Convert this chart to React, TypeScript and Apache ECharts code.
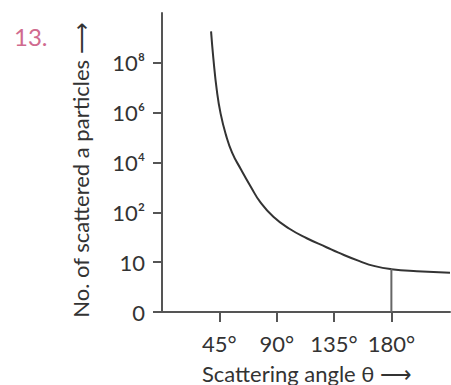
import React, { useEffect, useRef } from "react";
import * as echarts from "echarts";

const angles = [38.5, 40.3, 43, 46, 50, 55, 62, 70, 77, 87.4, 100, 113.6, 129, 138.5, 155, 167, 180, 200, 226];
const levels = [5.63, 5.09, 4.45, 3.98, 3.57, 3.2, 2.86, 2.5, 2.21, 1.91, 1.67, 1.48, 1.3, 1.19, 1.02, 0.92, 0.86, 0.82, 0.79];
const yTickLabels = ["0", "10", "10²", "10⁴", "10⁶", "10⁸"];
const xTicks = [45, 90, 135, 180];
const markerAngle = 180;
const markerLevel = 0.86;

export default function App() {
  const ref = useRef<HTMLDivElement>(null);
  useEffect(() => {
    if (!ref.current) return;
    const chart = echarts.init(ref.current, null, { renderer: "svg" });
    const font = "Lato, 'Open Sans', sans-serif";
    chart.setOption({
      animation: false,
      backgroundColor: "#fff",
      grid: { left: 162, right: 1, top: 13, bottom: 73 },
      xAxis: {
        type: "value",
        min: 0,
        max: 226,
        axisLine: { show: true, lineStyle: { color: "#555", width: 2 } },
        axisTick: { show: true, customValues: xTicks, length: 10, lineStyle: { color: "#555", width: 2 } },
        axisLabel: {
          customValues: xTicks,
          formatter: (v: number) => v + "°",
          fontSize: 22,
          color: "#333",
          fontFamily: font,
          margin: 20,
        },
        splitLine: { show: false },
      },
      yAxis: {
        type: "value",
        min: 0,
        max: 6,
        axisLine: { show: true, lineStyle: { color: "#555", width: 2 } },
        axisTick: { show: true, customValues: [0, 1, 2, 3, 4, 5], length: 9, lineStyle: { color: "#555", width: 2 } },
        axisLabel: {
          customValues: [0, 1, 2, 3, 4, 5],
          formatter: (v: number) => yTickLabels[Math.round(v)] ?? "",
          fontSize: 22,
          color: "#333",
          fontFamily: font,
          margin: 17,
        },
        splitLine: { show: false },
      },
      series: [
        {
          type: "line",
          data: angles.map((a, i) => [a, levels[i]]),
          smooth: 0.5,
          showSymbol: false,
          lineStyle: { color: "#333", width: 2 },
        },
        {
          type: "line",
          data: [
            [markerAngle, 0],
            [markerAngle, markerLevel],
          ],
          showSymbol: false,
          lineStyle: { color: "#666", width: 2 },
        },
      ],
      graphic: [
        {
          type: "text",
          left: 14,
          top: 24,
          style: { text: "13.", fontSize: 24, fill: "#d06a8e", fontFamily: font },
        },
        {
          type: "text",
          x: 80,
          y: 170,
          rotation: Math.PI / 2,
          style: {
            text: "No. of scattered a particles ⟶",
            fontSize: 22,
            fill: "#333",
            fontFamily: font,
            align: "center",
            verticalAlign: "middle",
          },
        },
        {
          type: "text",
          x: 307,
          y: 373,
          style: {
            text: "Scattering angle θ ⟶",
            fontSize: 22,
            fill: "#333",
            fontFamily: font,
            align: "center",
            verticalAlign: "middle",
          },
        },
      ],
    });
    return () => chart.dispose();
  }, []);
  return <div ref={ref} style={{ width: 451, height: 385, position: "absolute", left: 0, top: 0 }} />;
}
